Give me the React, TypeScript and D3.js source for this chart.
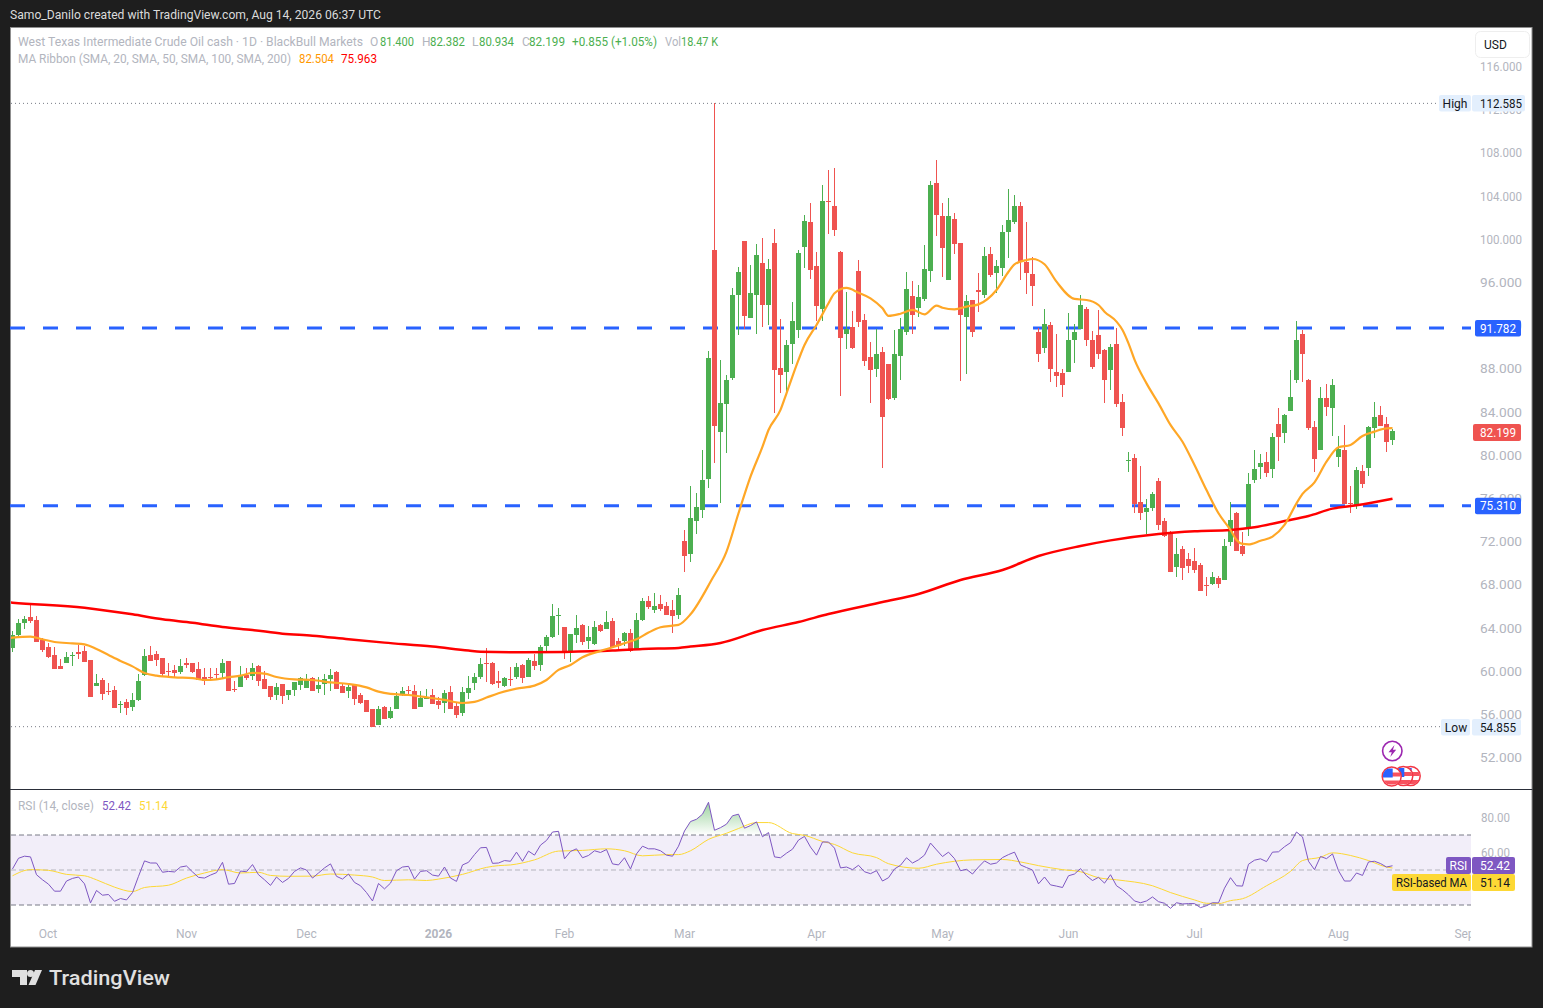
import React from "react";
import * as d3 from "d3";

type Bar = [number, number, number, number];

// open, high, low, close
const barsOctToNov: Bar[] = [
  [62.14,63.72,61.77,63.35],[63.35,64.83,63.07,64.46],[64.46,65.11,63.90,64.83],[65.01,66.12,64.46,64.64],[64.74,65.11,62.70,62.70],
  [62.88,63.07,61.77,61.96],[62.24,62.61,61.22,61.31],[61.49,62.24,60.20,60.20],[60.48,61.12,60.20,60.20],[60.75,61.77,60.75,61.31],
  [61.40,61.77,60.48,61.49],[61.77,62.42,61.12,61.59],[61.86,62.33,60.85,60.85],[61.03,61.03,57.60,57.60],[58.62,59.73,58.62,58.90],
  [59.18,59.36,57.33,57.88],[58.16,58.90,57.79,58.07],[58.25,58.62,56.59,56.59],[56.86,57.23,56.12,56.96],[57.14,57.42,55.94,56.59],
  [56.68,57.97,56.31,57.33],[57.33,59.73,57.23,59.09],[59.64,62.05,59.55,61.40],[61.49,62.33,60.94,60.94],[61.59,61.86,60.48,61.03],
  [61.22,61.22,59.55,59.73],[60.01,60.75,59.46,59.92],[60.11,60.57,59.46,59.83],[59.92,61.12,59.73,60.48],[60.75,61.22,60.29,60.57],
  [60.75,60.75,59.83,59.92],[60.20,60.85,59.18,59.18],[59.46,60.29,58.72,59.09],[59.46,60.29,59.09,59.36],[59.73,60.29,59.27,59.64],
  [59.83,61.12,59.36,60.75],[60.94,60.94,58.16,58.16],[58.35,59.09,58.07,58.25],[58.53,60.48,58.53,59.55],[59.64,60.29,59.18,59.36],
  [59.55,60.75,59.18,60.29],[60.48,60.57,58.62,59.09],[59.27,60.01,58.35,58.35],[58.62,58.62,57.33,57.60],[57.79,58.90,57.33,58.53],
  [58.81,58.81,56.96,57.70],[57.79,58.25,57.33,58.25],[58.25,58.99,57.70,58.99],[58.72,59.46,58.25,59.36],[58.44,59.73,58.44,59.18],
  [59.36,59.46,58.16,58.16],[58.35,59.46,57.97,58.72],[58.81,59.73,57.79,59.27],[59.27,60.20,58.16,59.64],[59.92,60.01,58.35,58.35],
  [58.62,58.90,57.97,57.97],[58.16,58.81,57.51,58.53],
];
const barsDecToFeb: Bar[] = [
  [58.72,58.72,56.87,57.42],[57.79,57.98,56.96,57.05],[57.33,57.33,56.22,56.22],[56.50,56.50,54.86,54.86],[55.02,56.77,55.02,56.50],
  [56.68,56.77,55.57,55.57],[55.66,56.68,55.57,56.31],[56.50,58.07,56.50,57.70],[57.79,58.53,57.70,58.16],[58.26,58.63,57.89,58.16],
  [58.16,58.72,56.50,56.50],[56.68,58.16,56.68,57.52],[57.45,58.35,57.42,57.52],[57.79,58.35,56.96,56.96],[57.24,57.61,56.50,56.87],
  [57.05,58.26,56.13,57.98],[58.07,58.63,56.50,56.50],[56.77,57.14,55.66,55.94],[56.13,58.53,55.85,58.07],[57.98,59.55,57.42,58.44],
  [58.90,59.83,58.26,59.46],[59.46,61.22,59.28,60.66],[60.76,62.15,59.00,60.66],[60.76,60.85,58.72,58.81],[59.09,60.02,58.44,58.90],
  [58.63,59.46,58.53,59.37],[59.28,60.39,58.63,59.18],[59.46,60.76,59.28,60.39],[60.57,60.66,58.90,59.37],[59.46,61.22,59.46,61.04],
  [60.94,61.59,60.11,60.48],[60.57,62.42,60.02,62.24],[62.33,63.35,61.87,63.17],[63.17,66.22,63.07,65.11],[65.14,65.85,63.35,65.20],
  [64.09,64.09,61.13,61.68],[61.78,63.44,60.85,63.44],[63.35,65.20,62.61,64.00],[64.28,64.37,62.42,62.70],[62.79,64.18,62.05,63.17],
  [62.52,64.65,62.42,64.09],[64.28,64.37,63.63,63.72],[63.91,65.57,63.91,64.55],[64.65,64.92,62.15,62.24],[62.79,63.07,61.96,62.33],
  [62.79,63.63,62.33,63.54],[63.54,63.91,61.78,61.87],[62.05,65.39,61.96,64.74],[64.74,66.78,64.65,66.50],[66.50,66.96,65.76,65.94],
  [65.67,67.24,65.39,66.04],[66.22,67.05,65.57,65.76],[66.04,66.41,65.20,65.20],[65.67,66.59,63.54,65.11],[65.20,67.70,64.83,67.05],
];
const barsMarToApr: Bar[] = [
  [72.06,73.07,69.18,70.66],[70.85,77.15,70.11,74.18],[73.90,76.50,72.70,75.20],[74.92,80.48,74.18,77.70],[77.80,89.65,76.96,89.00],
  [99.00,112.585,79.28,82.70],[82.15,88.82,75.57,84.83],[84.74,87.43,80.20,86.97],[87.15,95.49,86.97,94.84],[94.84,97.43,91.13,96.97],
  [99.84,99.84,91.69,92.89],[92.71,97.61,92.71,95.02],[94.84,99.56,91.22,98.54],[97.80,100.12,91.87,93.91],[93.91,98.17,92.06,97.24],
  [99.65,100.95,83.91,87.89],[88.08,92.61,85.76,87.43],[87.70,90.67,85.67,90.20],[90.30,94.19,88.45,92.43],[91.60,99.00,90.85,98.72],
  [99.28,102.25,97.34,101.69],[101.60,103.36,96.32,97.15],[97.52,98.82,92.43,93.82],[93.54,105.02,92.43,103.54],[103.54,106.41,100.49,103.45],
  [103.08,106.60,100.30,100.86],[98.82,98.91,85.48,90.85],[91.22,95.11,89.84,91.69],[91.87,93.35,89.84,89.93],[97.06,98.08,91.87,92.33],
  [92.52,93.08,88.26,88.72],[89.09,90.48,84.83,87.89],[87.98,91.69,87.24,89.37],[89.56,90.02,78.81,83.54],[88.45,88.45,85.11,85.20],
];
const barsAprToJun: Bar[] = [
  [85.30,91.60,85.11,89.37],[89.19,92.71,86.97,91.69],[91.41,96.97,91.13,95.39],[94.75,96.13,91.22,92.98],[93.63,95.76,92.80,94.65],
  [94.47,99.47,94.28,97.25],[97.06,105.40,96.04,105.03],[105.21,107.34,100.30,102.25],[102.16,103.36,96.50,99.19],[96.23,103.82,96.23,102.16],
  [101.88,102.43,98.63,99.56],[99.65,99.65,86.87,92.98],[92.80,94.84,87.52,94.28],[94.38,94.38,90.95,91.41],[95.30,96.87,93.26,95.12],
  [94.84,99.28,94.56,98.45],[98.63,99.28,96.50,96.69],[96.87,98.08,95.02,97.52],[97.34,101.32,96.60,100.67],[100.67,104.65,98.26,101.78],
  [101.60,104.10,101.41,103.08],[103.08,103.45,96.23,97.89],[97.89,101.60,94.93,96.87],[96.78,98.36,93.82,95.67],[91.41,91.78,88.64,89.37],
  [89.93,93.54,89.47,92.15],[92.06,92.34,86.78,87.99],[87.71,91.22,86.32,87.34],[87.62,87.99,85.39,86.50],[87.71,93.17,87.71,90.67],
  [90.67,92.15,88.54,91.41],[91.69,94.84,91.69,93.91],[93.54,93.73,90.11,90.67],[90.67,91.50,87.99,88.17],[91.13,93.45,88.91,89.37],
  [89.74,89.84,84.83,86.97],[87.90,90.30,86.04,90.02],[90.30,91.78,84.47,84.74],[84.93,85.67,81.78,82.52],
];
const barsJunToAug: Bar[] = [
  [79.47,80.30,78.45,79.56],[79.74,80.11,74.65,75.48],[75.67,79.00,74.00,74.65],[74.74,75.95,72.71,75.11],[75.11,76.59,74.84,76.41],
  [77.61,77.89,73.08,73.54],[73.91,74.19,72.43,72.52],[72.89,72.98,69.19,69.19],[69.65,72.33,68.72,70.85],[71.32,71.59,68.45,69.56],
  [70.39,70.95,69.09,69.74],[70.20,71.41,69.09,69.37],[69.83,70.02,67.43,67.43],[67.98,68.72,66.96,67.89],[68.07,69.19,67.98,68.72],
  [68.63,68.82,67.70,68.07],[68.45,72.24,68.45,71.59],[71.96,75.67,71.59,74.00],[74.65,74.74,71.13,71.13],[71.59,72.89,70.67,70.85],
  [73.26,78.35,72.52,77.34],[77.71,80.48,77.43,78.72],[78.91,80.11,77.80,79.28],[79.37,80.30,77.98,78.35],[78.72,82.06,77.89,81.69],
  [82.89,84.37,79.47,81.69],[82.06,83.81,81.13,83.72],[84.10,87.89,84.10,85.39],[86.96,92.43,86.69,90.67],[91.22,91.60,86.78,89.37],
  [86.96,87.06,82.33,82.52],[82.61,83.17,78.45,79.65],[80.48,86.31,80.48,85.30],[85.30,86.59,83.63,84.46],[84.37,87.06,81.78,86.50],
  [79.84,81.78,78.91,80.58],[80.48,82.80,75.48,75.48],[75.58,77.15,74.65,75.48],[75.30,78.91,75.02,78.63],[78.54,79.10,76.97,77.34],
  [78.82,82.71,78.08,82.61],[82.52,84.93,81.60,83.54],[83.72,84.56,82.71,82.71],[82.89,83.54,80.30,81.22],[81.40,82.382,80.934,82.199],
];
const bars: Bar[] = [...barsOctToNov, ...barsDecToFeb, ...barsMarToApr, ...barsAprToJun, ...barsJunToAug];

// SMA 20 readings: bar number, value
const ma20Index = [-0.4,0,3,5,7,10,12,14,16,18,20,22,24,27,30,32,34,36,38,40,42,44,47,50,53,56,59,61,63,66,69,72,75,77,79,81,84,87,89,91,93,95,98,100,102,104,106,108,110,111,113,116.5,119,121,123,125,126,128,129,131,132,134,136,137,139,141,143,145,146,148,150,152,154,155,157,159,161,164,166,167,169,170,172,174,177,179,181,182,184,185,186,187,189,191,193,195,197,199,201,203,204,205,206,208,210,212,214,215,217,219,221,223,225,227,229,230];
const ma20Value = [63.08,63.10,63.19,62.95,62.70,62.57,62.48,62.05,61.49,60.94,60.44,59.83,59.58,59.43,59.36,59.18,59.24,59.43,59.58,59.83,59.77,59.46,59.24,59.18,58.96,58.81,58.50,58.10,57.89,57.79,57.58,57.33,57.05,57.15,57.55,57.95,58.38,58.66,59.18,60.11,60.57,61.28,61.87,62.21,62.58,62.95,63.57,64.06,64.21,64.28,65.26,68.44,71.07,74.62,78.01,80.79,82.33,84.19,85.73,88.82,90.20,92.06,94.07,95.0,95.49,95.05,94.53,93.60,92.90,93.10,93.45,93.05,93.85,93.66,93.51,93.76,93.97,95.30,96.99,97.68,98.08,98.17,97.68,96.07,94.47,94.37,93.91,93.29,92.37,91.60,90.36,88.85,86.65,84.80,82.80,81.25,79.09,76.77,74.62,73.07,72.15,71.78,71.74,72.08,72.45,73.54,75.54,76.41,77.49,79.40,80.73,80.95,81.78,82.18,82.49,82.504];

// SMA 200 readings: bar number, value
const ma200Index = [-0.4,0,12,20,25,30,35,40,45,50,56,62,70,76,78,85,92,100,105,111,113,118,125,131,136,145,151,158,165,171,178,183,191,197,203,207,212,216,220,224,230];
const ma200Value = [66.36,66.34,65.88,65.26,64.80,64.49,64.09,63.81,63.47,63.28,62.95,62.64,62.27,61.90,61.80,61.75,61.78,61.90,62.05,62.15,62.27,62.61,63.81,64.55,65.29,66.40,67.14,68.44,69.37,70.66,71.59,72.11,72.70,72.95,73.07,73.32,73.90,74.37,75.05,75.36,75.963];

const rsiValues = [
  50.6,56.7,57.9,57.5,47.3,44.4,41.9,37.9,37.9,43.7,45.2,46.0,42.1,31.2,38.3,35.6,36.0,32.1,33.7,32.9,37.1,46.4,55.2,54.0,54.0,48.7,49.2,48.9,51.7,52.3,
  48.9,45.8,45.4,47.1,48.5,54.4,41.9,42.3,49.4,49.0,53.1,47.3,44.4,41.2,46.0,42.9,45.2,49.2,51.2,50.0,45.4,48.3,51.2,53.5,46.4,44.8,47.7,42.9,41.0,37.1,
  32.3,42.3,39.2,42.5,49.6,51.7,52.1,44.8,49.2,49.6,47.1,46.5,51.7,45.4,43.5,52.9,54.4,58.8,62.7,62.9,53.8,54.0,55.4,55.0,60.2,55.0,60.8,58.5,64.2,66.9,
  71.7,72.1,56.4,60.6,62.1,57.0,58.3,61.0,60.0,61.7,53.5,52.9,57.0,50.6,59.2,63.6,62.1,62.1,61.0,58.5,57.9,63.6,72.3,77.7,79.0,81.9,88.7,72.7,74.2,76.2,
  81.0,81.9,73.9,75.4,77.5,69.0,71.4,57.5,57.0,59.6,61.9,67.1,69.2,63.1,58.5,66.0,66.0,62.5,51.2,51.7,50.2,52.7,49.0,47.9,49.6,43.7,45.6,50.6,52.7,57.0,
  54.0,55.8,58.5,65.4,61.5,57.7,60.2,56.5,49.6,50.4,47.7,51.7,55.2,53.3,54.0,57.1,58.8,60.2,52.9,51.4,50.0,42.1,46.0,41.5,40.8,40.0,46.7,47.7,50.8,46.7,
  44.0,45.8,42.5,47.3,41.0,38.7,35.8,32.3,31.3,32.3,34.6,31.9,31.0,28.1,31.3,30.6,30.8,30.8,28.5,29.6,31.3,31.2,39.6,45.6,41.0,40.8,53.3,55.6,56.4,54.8,
  60.2,60.4,63.3,65.6,71.7,68.9,55.0,50.2,57.7,56.5,59.2,49.6,43.7,43.7,48.3,46.9,54.6,55.0,53.7,51.7,52.42,
];
const rsiMaIndex = [0,3,6,9,12,14,17,20,22,26,29,32,35,38,41,43,46,50,53,57,60,62,66,69,71,75,79,81,83,87,91,95,99,102,105,109,111,113,116,119,121,124,126,130,132,135,137,140,144,146,151,154,157,160,165,168,171,175,178,181,184,190,193,197,199,201,203,205,209,213,215,218,220,223,226,229,230];
const rsiMaValue = [46.7,50.2,49.8,47.5,46.7,44.4,40.2,37.7,40.0,41.3,45.4,48.3,50.2,48.3,48.7,46.9,46.4,46.5,47.7,47.1,46.0,44.0,44.4,44.0,44.8,47.5,51.5,52.5,52.9,55.8,60.8,61.2,62.1,61.0,58.1,58.8,58.8,61.0,67.5,71.0,73.7,77.1,77.1,70.8,69.8,66.3,64.6,59.8,57.1,53.6,51.0,53.3,55.0,55.8,56.0,54.6,52.5,50.2,49.0,45.6,44.4,41.0,37.1,32.9,31.0,30.8,32.5,33.6,41.0,49.2,55.4,57.3,59.8,58.3,55.4,51.7,51.14];

const priceTicks = [116,112,108,104,100,96,92,88,84,80,76,72,68,64,60,56,52];
const rsiTicks = [80,60];
const monthLabels = ["Oct","Nov","Dec","2026","Feb","Mar","Apr","May","Jun","Jul","Aug","Sep"];
const monthIndex = [5.9,29,49,71,92,112,134,155,176,197,221,242];
const levelValues = [91.782,75.31];
const highValue = 112.585;
const lowValue = 54.855;
const lastClose = 82.199;

const GREEN = "#4caf50";
const RED = "#ef5350";
const GREY = "#b2b5be";
const FONT = "Roboto, 'Noto Sans', sans-serif";

const PANE_L = 10, PANE_R = 1532.5, PANE_T = 27, PANE_B = 947.5, PLOT_R = 1471;

const x = d3.scaleLinear().domain([0, 230]).range([12.5, 1392.5]);
const y = d3.scaleLinear().domain([116, 52]).range([66.5, 757.5]);
const ry = d3.scaleLinear().domain([50, 70]).range([870, 835]);

const f3 = d3.format(".3f");

const T = ({ x: tx, y: ty, w, c = GREY, s = 12, a = "start", b = false, wt, children }: any) => (
  <text x={tx} y={ty + 0.6} fill={c} fontSize={s} fontFamily={FONT} textAnchor={a} dominantBaseline="central"
    fontWeight={wt ?? (b ? 700 : 400)} {...(w ? { textLength: w, lengthAdjust: "spacingAndGlyphs" } : {})}>{children}</text>
);

const Flag = ({ cx, cy, id }: any) => (
  <g>
    <clipPath id={id}><circle cx={cx} cy={cy} r={9} /></clipPath>
    <circle cx={cx} cy={cy} r={9.5} fill="#fff" stroke="#f23645" strokeWidth={1.5} />
    <g clipPath={`url(#${id})`}>
      <rect x={cx - 10} y={cy - 4} width={20} height={4} fill="#f7525f" />
      <rect x={cx - 10} y={cy + 4} width={20} height={4} fill="#f7525f" />
      <rect x={cx - 9} y={cy - 8} width={10} height={9} fill="#2962ff" />
    </g>
  </g>
);

export default function App() {
  const ma20Line = d3.line<number>().x((d) => x(d)).y((_, i) => y(ma20Value[i])).curve(d3.curveMonotoneX)(ma20Index)!;
  const ma200Line = d3.line<number>().x((d) => x(d)).y((_, i) => y(ma200Value[i])).curve(d3.curveMonotoneX)(ma200Index)!;
  const rsiLine = d3.line<number>().x((_, i) => x(i)).y((d) => ry(d))(rsiValues)!;
  const rsiMaLine = d3.line<number>().x((d) => x(d)).y((_, i) => ry(rsiMaValue[i])).curve(d3.curveMonotoneX)(rsiMaIndex)!;
  const overArea = d3.area<number>().x((_, i) => x(i)).y0(ry(70)).y1((d) => ry(Math.max(d, 70)))(rsiValues)!;

  return (
    <div style={{ position: "fixed", left: 0, top: 0, width: 1543, height: 1008, background: "#1e1e1e", overflow: "hidden" }}>
      <svg width={1543} height={1008} style={{ display: "block" }}>
        <defs>
          <linearGradient id="over" gradientUnits="userSpaceOnUse" x1={0} x2={0} y1={ry(90)} y2={ry(70)}>
            <stop offset="0%" stopColor="#4caf50" stopOpacity={0.6} />
            <stop offset="100%" stopColor="#4caf50" stopOpacity={0} />
          </linearGradient>
          <clipPath id="plot"><rect x={PANE_L + 1} y={PANE_T} width={PLOT_R - PANE_L - 1} height={PANE_B - PANE_T} /></clipPath>
        </defs>

        <rect x={0} y={0} width={1543} height={1008} fill="#1e1e1e" />
        <T x={10} y={14} c="#dbdbdb" w={371}>Samo_Danilo created with TradingView.com, Aug 14, 2026 06:37 UTC</T>

        <rect x={PANE_L + 0.5} y={PANE_T + 0.5} width={PANE_R - PANE_L - 1} height={PANE_B - PANE_T - 1} fill="#fff" stroke="#8f8f8f" strokeWidth={1} />

        {/* price axis */}
        {priceTicks.map((t) => (
          <T key={t} x={1522} y={y(t)} a="end" w={42}>{f3(t)}</T>
        ))}

        {/* high, low, levels */}
        <line x1={PANE_L + 1} x2={1439} y1={y(highValue)} y2={y(highValue)} stroke="#787b86" strokeDasharray="1 3" />
        <line x1={PANE_L + 1} x2={1441} y1={y(lowValue)} y2={y(lowValue)} stroke="#787b86" strokeDasharray="1 3" />
        {levelValues.map((v) => (
          <line key={v} x1={PANE_L} x2={PLOT_R} y1={y(v)} y2={y(v)} stroke="#2962ff" strokeWidth={3} strokeDasharray="15 18" />
        ))}

        {/* candles */}
        <g shapeRendering="crispEdges" clipPath="url(#plot)">
          {bars.map(([o, h, l, c], i) => {
            const col = c >= o ? GREEN : RED;
            const top = y(Math.max(o, c));
            const bot = y(Math.min(o, c));
            return (
              <g key={i}>
                <rect x={x(i) - 0.5} width={1} y={y(h)} height={Math.max(1, y(l) - y(h))} fill={col} />
                <rect x={x(i) - 2.5} width={5} y={top} height={Math.max(1, bot - top)} fill={col} />
              </g>
            );
          })}
        </g>

        <g clipPath="url(#plot)">
          <path d={ma200Line} fill="none" stroke="#ff0000" strokeWidth={2.5} />
          <path d={ma20Line} fill="none" stroke="#ffa726" strokeWidth={2.2} />
        </g>

        {/* header */}
        <T x={18} y={41} w={345}>West Texas Intermediate Crude Oil cash · 1D · BlackBull Markets</T>
        <T x={370} y={41}>O</T><T x={380} y={41} c={GREEN} w={34}>81.400</T>
        <T x={422} y={41}>H</T><T x={430} y={41} c={GREEN} w={35}>82.382</T>
        <T x={472} y={41}>L</T><T x={479} y={41} c={GREEN} w={35}>80.934</T>
        <T x={522} y={41}>C</T><T x={529} y={41} c={GREEN} w={36}>82.199</T>
        <T x={572} y={41} c={GREEN} w={85}>+0.855 (+1.05%)</T>
        <T x={665} y={41} w={16}>Vol</T><T x={681} y={41} c={GREEN} w={37}>18.47 K</T>
        <T x={18} y={58} w={273}>MA Ribbon (SMA, 20, SMA, 50, SMA, 100, SMA, 200)</T>
        <T x={299} y={58} c="#ff9800" w={35}>82.504</T>
        <T x={341} y={58} c="#ff0000" w={36}>75.963</T>

        {/* USD */}
        <rect x={1475.5} y={31.5} width={54} height={26} rx={5} fill="#fff" stroke="#eeeeee" />
        <T x={1484} y={44.5} c="#131722">USD</T>

        {/* price tags */}
        <rect x={1439} y={95} width={32} height={16.5} rx={2} fill="#e3effd" />
        <T x={1455} y={103} a="middle" c="#131722">High</T>
        <rect x={1472} y={95} width={53} height={16.5} rx={2} fill="#e3effd" />
        <T x={1480} y={103} c="#131722" w={42}>{f3(highValue)}</T>

        <rect x={1441} y={719} width={29} height={16.5} rx={2} fill="#e3effd" />
        <T x={1456} y={727} a="middle" c="#131722">Low</T>
        <rect x={1472} y={719} width={49} height={16.5} rx={2} fill="#e3effd" />
        <T x={1480} y={727} c="#131722" w={36}>{f3(lowValue)}</T>

        {levelValues.map((v) => (
          <g key={v}>
            <rect x={1475} y={y(v) - 8} width={46} height={16.5} rx={2} fill="#2962ff" />
            <T x={1480} y={y(v)} c="#fff" w={36}>{f3(v)}</T>
          </g>
        ))}
        <rect x={1473} y={y(lastClose) - 7.5} width={48} height={17} rx={2} fill={RED} />
        <T x={1480} y={y(lastClose) + 0.5} c="#fff" w={36}>{f3(lastClose)}</T>

        {/* event icons */}
        <circle cx={1392.3} cy={751} r={9.7} fill="#fff" stroke="#9c27b0" strokeWidth={1.6} />
        <path d="M1394.5,745 L1388.5,752.2 L1391.8,752.2 L1390.3,757 L1396.2,749.8 L1392.9,749.8 Z" fill="#9c27b0" />
        <Flag cx={1410.7} cy={776} id="f3" />
        <Flag cx={1403.3} cy={776} id="f2" />
        <Flag cx={1391.7} cy={776.5} id="f1" />

        {/* pane separator */}
        <line x1={PANE_L} x2={PANE_R} y1={789.5} y2={789.5} stroke="#2a2e39" />

        {/* RSI pane */}
        <T x={18} y={805} w={76}>RSI (14, close)</T>
        <T x={102} y={805} c="#7e57c2" w={29}>52.42</T>
        <T x={139} y={805} c="#fdd835" w={29}>51.14</T>

        <rect x={PANE_L + 1} y={ry(70)} width={PLOT_R - PANE_L - 1} height={ry(30) - ry(70)} fill="#7e57c2" fillOpacity={0.1} />
        <line x1={PANE_L + 1} x2={PLOT_R} y1={ry(70)} y2={ry(70)} stroke="#787b86" strokeDasharray="5 3" />
        <line x1={PANE_L + 1} x2={PLOT_R} y1={ry(50)} y2={ry(50)} stroke="#787b86" strokeOpacity={0.5} strokeDasharray="5 3" />
        <line x1={PANE_L + 1} x2={PLOT_R} y1={ry(30)} y2={ry(30)} stroke="#787b86" strokeDasharray="5 3" />
        <path d={overArea} fill="url(#over)" />
        <path d={rsiMaLine} fill="none" stroke="#fdd835" strokeWidth={1} />
        <path d={rsiLine} fill="none" stroke="#7e57c2" strokeWidth={1} />

        {rsiTicks.map((t) => (
          <T key={t} x={1510} y={ry(t)} a="end" w={29}>{t.toFixed(2)}</T>
        ))}
        <rect x={1446} y={857} width={25} height={17} rx={2} fill="#7e57c2" />
        <T x={1458.5} y={865} a="middle" c="#fff">RSI</T>
        <rect x={1472} y={857} width={43} height={17} rx={2} fill="#7e57c2" />
        <T x={1480} y={865} c="#fff" w={30}>52.42</T>
        <rect x={1392} y={874} width={79} height={17} rx={2} fill="#fdd835" />
        <T x={1396} y={882} c="#131722" w={71}>RSI-based MA</T>
        <rect x={1472} y={874} width={43} height={17} rx={2} fill="#fdd835" />
        <T x={1480} y={882} c="#131722" w={30}>51.14</T>

        {/* time axis */}
        <g clipPath="url(#plot)">
          {monthLabels.map((m, i) => (
            <T key={m} x={x(monthIndex[i])} y={933} a="middle" b={m === "2026"}>{m}</T>
          ))}
        </g>

        {/* TradingView logo */}
        <path d="M12,970 H27 V985 H20 V977 H12 Z" fill="#e0e0e0" />
        <circle cx={30.5} cy={973.5} r={3.5} fill="#e0e0e0" />
        <path d="M35,970 H42 L35.5,985 H28.5 Z" fill="#e0e0e0" />
        <T x={49} y={977.5} c="#e0e0e0" s={21} w={121} wt={500}>TradingView</T>
      </svg>
    </div>
  );
}
